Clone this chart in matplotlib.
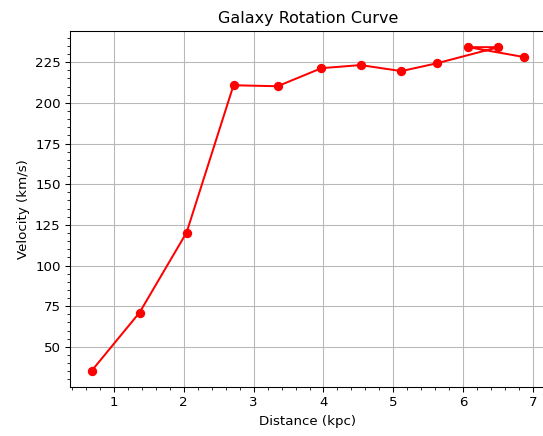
import matplotlib
matplotlib.use("Agg")
import matplotlib.pyplot as plt
from matplotlib.ticker import AutoMinorLocator

distance = [0.686, 1.371, 2.043, 2.714, 3.343, 3.971, 4.529, 5.114, 5.629, 6.5, 6.071, 6.871]
velocity = [35.3, 71.1, 120.3, 210.8, 210.2, 221.3, 223.2, 219.5, 224.4, 234.2, 234.2, 228.1]

DPI = 96
fig = plt.figure(figsize=(543 / DPI, 436 / DPI), dpi=DPI)
ax = fig.add_axes([70 / 543, 1 - 387 / 436, 476 / 543, (387 - 31) / 436])
ax.plot(distance, velocity, color="red", marker="o", markersize=6, linewidth=1.5)
ax.set_title("Galaxy Rotation Curve")
ax.set_xlabel("Distance (kpc)")
ax.set_ylabel("Velocity (km/s)")
ax.grid(True, color="#b8b8b8")
ax.xaxis.set_minor_locator(AutoMinorLocator())
ax.yaxis.set_minor_locator(AutoMinorLocator())
fig.savefig("out.png", dpi=DPI)
